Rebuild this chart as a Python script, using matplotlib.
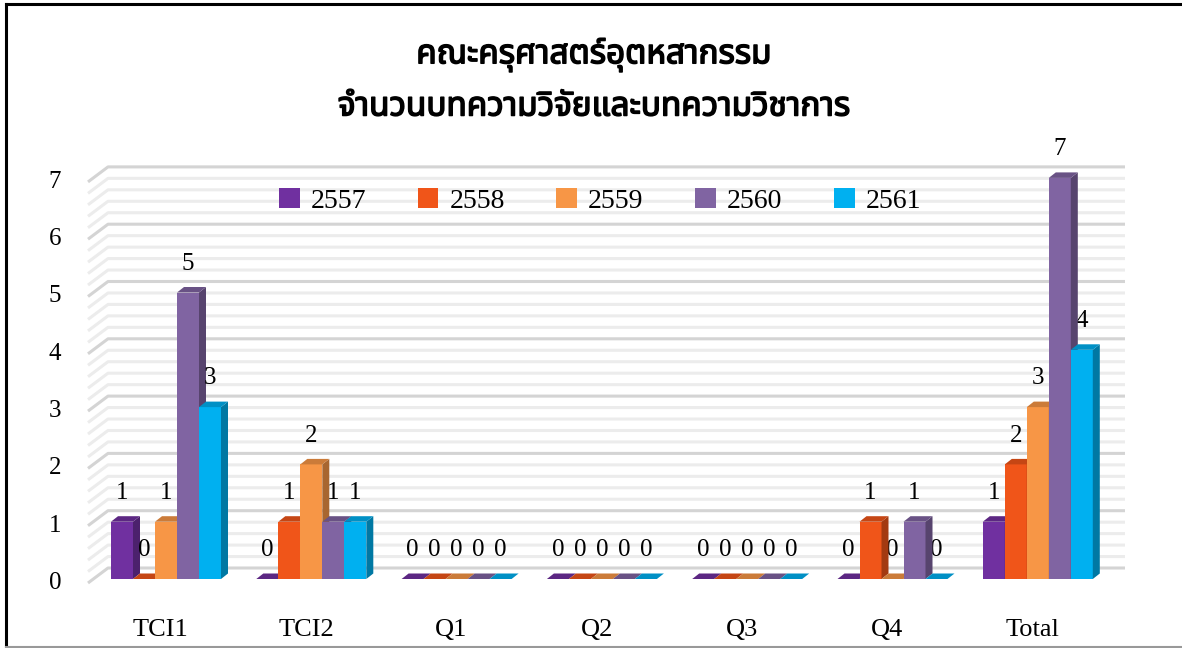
#!/usr/bin/env python3

# grouped pseudo-3D bar chart: articles per year for each journal tier

import numpy as np
import matplotlib
matplotlib.use('Agg')
import matplotlib.pyplot as plt
import matplotlib.patheffects as pe
from matplotlib.patches import Polygon, Patch
from matplotlib import font_manager
from matplotlib.ft2font import FT2Font

categories = ['TCI1', 'TCI2', 'Q1', 'Q2', 'Q3', 'Q4', 'Total']
years = ['2557', '2558', '2559', '2560', '2561']
v2557 = [1, 0, 0, 0, 0, 0, 1]
v2558 = [0, 1, 0, 0, 0, 1, 2]
v2559 = [1, 2, 0, 0, 0, 0, 3]
v2560 = [5, 1, 0, 0, 0, 1, 7]
v2561 = [3, 1, 0, 0, 0, 0, 4]
series = [v2557, v2558, v2559, v2560, v2561]
title_lines = ['คณะครุศาสตร์อุตหสากรรม', 'จำนวนบทความวิจัยและบทความวิชาการ']

colors = ['#7030A0', '#F05519', '#F79646', '#8064A2', '#00B0F0']


def find_thai_font():
    preferred = ['Noto Sans Thai', 'Noto Sans Thai UI', 'Loma', 'Garuda',
                 'Tlwg Typo', 'Norasi', 'Kinnari', 'Sawasdee']
    found = {}
    for f in font_manager.fontManager.ttflist:
        try:
            if 0x0E04 in FT2Font(f.fname).get_charmap():
                found[f.name] = True
        except Exception:
            pass
    for name in preferred:
        if name in found:
            return name
    if found:
        return sorted(found)[0]
    return 'DejaVu Sans'


thai_font = find_thai_font()
num_font = 'Liberation Serif'


def shade(c, f):
    rgb = np.array(matplotlib.colors.to_rgb(c))
    return tuple(rgb * f)


W, H = 1182, 648
fig = plt.figure(figsize=(W / 100, H / 100), dpi=100)

# pixel geometry of the plot (category 0 centre, spacing, zero line, unit height)
cx0, cstep, y0, ystep = 166.0, 145.3, 579.0, 57.3
ax_l, ax_r, ax_t, ax_b = 60, 1140, 150, 600
ax = fig.add_axes([ax_l / W, 1 - ax_b / H, (ax_r - ax_l) / W, (ax_b - ax_t) / H])
ax.set_xlim((ax_l - cx0) / cstep, (ax_r - cx0) / cstep)
ax.set_ylim((y0 - ax_b) / ystep, (y0 - ax_t) / ystep)
ax.axis('off')

bw = 22 / cstep        # bar front width
ddx = 7 / cstep        # depth offset, x
ddy = 5.5 / ystep      # depth offset, y

# back wall grid lines with the slanted left edge
gx_front, gx_back, gx_end = (88 - cx0) / cstep, (108 - cx0) / cstep, (1125 - cx0) / cstep
g_front, g_back = -4 / ystep, 11 / ystep
for k in range(0, 36):
    v = k * 0.2
    major = (k % 5 == 0)
    col = '#d4d4d4' if major else '#ececec'
    ax.plot([gx_front, gx_back, gx_end], [v + g_front, v + g_back, v + g_back],
            color=col, lw=2.2, solid_capstyle='butt', zorder=1)

# y tick labels
for t in range(8):
    ax.text((61 - cx0) / cstep, t + g_front, str(t), ha='right', va='center',
            family=num_font, fontsize=18, color='black')

# bars
z = 2
for i, cat in enumerate(categories):
    left0 = i - 2.5 * bw
    for j, vals in enumerate(series):
        v = vals[i]
        x1 = left0 + j * bw
        x2 = x1 + bw
        c = colors[j]
        if v > 0:
            ax.add_patch(Polygon([(x1, 0), (x2, 0), (x2, v), (x1, v)],
                                 closed=True, facecolor=c, edgecolor='none', zorder=z))
            ax.add_patch(Polygon([(x2, 0), (x2 + ddx, ddy), (x2 + ddx, v + ddy), (x2, v)],
                                 closed=True, facecolor=shade(c, 0.68), edgecolor='none', zorder=z))
        ax.add_patch(Polygon([(x1, v), (x2, v), (x2 + ddx, v + ddy), (x1 + ddx, v + ddy)],
                             closed=True, facecolor=shade(c, 0.82), edgecolor='none', zorder=z))
        ax.text(x1 + bw / 2, v + 0.5, str(v), ha='center', va='center',
                family=num_font, fontsize=18, color='black', zorder=10)
        z += 1
    ax.text(i - 0.035, -0.89, cat, ha='center', va='center',
            family=num_font, fontsize=19, color='black')

# legend
handles = [Patch(facecolor=c, edgecolor='none') for c in colors]
fig.legend(handles, years, loc='center', bbox_to_anchor=(600 / W, 1 - 201 / H),
           ncol=5, frameon=False, handlelength=0.75, handleheight=0.75,
           handletextpad=0.4, columnspacing=1.85,
           prop={'family': num_font, 'size': 20})

# title (stroke thickens the regular Thai face)
bold = [pe.withStroke(linewidth=1.1, foreground='black')]
fig.text(594 / W, 1 - 55 / H, title_lines[0], ha='center', va='center',
         family=[thai_font, 'DejaVu Sans'], fontsize=24, fontweight='bold',
         path_effects=bold)
fig.text(594 / W, 1 - 107 / H, title_lines[1], ha='center', va='center',
         family=[thai_font, 'DejaVu Sans'], fontsize=24, fontweight='bold',
         path_effects=bold)

# border lines of the cropped chart frame
fig.add_artist(plt.Line2D([5.5 / W, 5.5 / W], [0, 1 - 4 / H], color='black', lw=2.2))
fig.add_artist(plt.Line2D([5.5 / W, 1], [1 - 4 / H, 1 - 4 / H], color='black', lw=2.2))
fig.add_artist(plt.Line2D([5.5 / W, 1], [1.5 / H, 1.5 / H], color='#999999', lw=1.5))

fig.savefig('out.png', dpi=100)
